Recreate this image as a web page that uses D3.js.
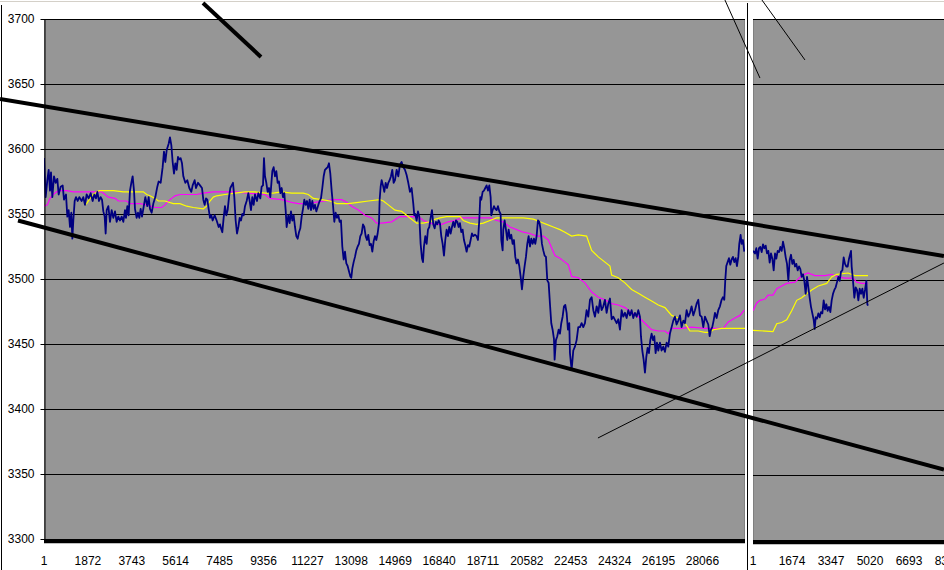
<!DOCTYPE html>
<html>
<head>
<meta charset="utf-8">
<script src="https://cdn.jsdelivr.net/npm/d3@7"></script>
<style>
  body { margin: 0; background: #fff; }
  svg { display: block; }
  text { font-family: "Liberation Sans", Arial, sans-serif; font-size: 12px; fill: #000; }
</style>
</head>
<body>
<svg id="chart" width="944" height="570"></svg>
<script>
// ---- data ----
const yTicks = [3300, 3350, 3400, 3450, 3500, 3550, 3600, 3650, 3700];
const leftCats = [1, 1872, 3743, 5614, 7485, 9356, 11227, 13098, 14969, 16840, 18711, 20582, 22453, 24324, 26195, 28066];
const rightCats = [1, 1674, 3347, 5020, 6693, 8366];
const leftCount = 29880;

// price, left chart  [index, value]
const priceLeft = [[1,3593],[72,3563],[143,3576],[200,3584],[257,3568],[299,3582],[356,3563],[427,3579],[498,3574],[569,3577],[626,3565],[711,3571],[797,3572],[853,3561],[939,3565],[995,3548],[1052,3553],[1109,3540],[1166,3551],[1209,3531],[1251,3545],[1308,3560],[1365,3563],[1436,3560],[1507,3563],[1606,3560],[1677,3563],[1748,3557],[1819,3565],[1905,3562],[1990,3566],[2075,3560],[2146,3565],[2217,3562],[2274,3567],[2345,3560],[2416,3563],[2473,3561],[2530,3552],[2587,3548],[2629,3535],[2672,3553],[2743,3556],[2814,3544],[2885,3553],[2956,3547],[3027,3552],[3098,3544],[3169,3548],[3240,3545],[3311,3548],[3382,3544],[3453,3553],[3496,3547],[3553,3556],[3609,3549],[3666,3568],[3723,3574],[3780,3579],[3837,3568],[3879,3554],[3950,3547],[4007,3551],[4064,3547],[4121,3554],[4178,3548],[4263,3557],[4320,3563],[4405,3556],[4462,3563],[4519,3554],[4590,3551],[4661,3558],[4746,3563],[4831,3571],[4888,3575],[4973,3574],[5058,3586],[5115,3598],[5172,3590],[5229,3599],[5314,3604],[5371,3609],[5428,3603],[5485,3590],[5542,3581],[5599,3589],[5655,3584],[5712,3594],[5769,3592],[5826,3593],[5883,3589],[5940,3579],[6025,3574],[6110,3576],[6195,3570],[6280,3567],[6337,3572],[6422,3576],[6479,3570],[6565,3574],[6650,3572],[6735,3570],[6792,3561],[6849,3557],[6906,3562],[6962,3561],[7019,3554],[7076,3547],[7133,3549],[7190,3545],[7275,3549],[7360,3545],[7446,3540],[7502,3542],
  [7545,3539],[7602,3536],[7658,3547],[7715,3556],[7772,3549],[7829,3553],[7886,3563],[7943,3570],[8000,3572],[8056,3574],[8113,3563],[8170,3545],[8227,3535],[8284,3540],[8340,3547],[8397,3545],[8454,3550],[8511,3549],[8568,3556],[8639,3560],[8710,3566],[8767,3560],[8823,3553],[8880,3563],[8937,3557],[8994,3565],[9079,3560],[9136,3566],[9221,3562],[9278,3571],[9335,3572],[9377,3593],[9420,3579],[9477,3574],[9534,3567],[9591,3570],[9647,3563],[9733,3583],[9789,3586],[9846,3579],[9903,3583],[9960,3574],[10017,3575],[10074,3566],[10130,3570],[10187,3563],[10244,3566],[10301,3553],[10343,3540],[10415,3549],[10471,3543],[10528,3552],[10585,3545],[10642,3549],[10699,3540],[10755,3533],[10812,3531],[10869,3536],[10926,3539],[10983,3548],[11040,3554],[11097,3561],[11153,3557],[11210,3560],[11267,3554],[11324,3561],[11381,3553],[11437,3560],[11494,3554],[11551,3557],[11608,3552],[11693,3557],[11750,3560],[11807,3562],[11864,3570],[11921,3579],[11977,3584],[12034,3585],[12091,3586],[12148,3589],[12205,3581],[12261,3568],[12318,3557],[12375,3544],[12432,3551],[12489,3547],[12546,3549],[12602,3544],[12659,3545],[12716,3525],[12773,3515],[12830,3521],[12887,3512],[12943,3510],[13000,3506],[13057,3502],[13100,3501],[13142,3508],[13199,3513],[13256,3517],[13313,3522],[13370,3525],[13426,3527],[13483,3533],[13540,3535],[13597,3542],[13654,3540],[13711,3533],[13767,3530],[13824,3534],[13881,3526],[13938,3527],[13995,3521],[14052,3529],[14108,3533],[14165,3530],[14222,3535],[14279,3543],[14307,3561],[14350,3571],[14393,3576],[14449,3572],[14506,3567],[14563,3574],[14620,3570],[14677,3574],[14733,3576],[14790,3579],[14847,3584],[14904,3574],[14961,3576],
  [15031,3584],[15102,3579],[15173,3588],[15244,3590],[15315,3586],[15386,3584],[15457,3580],[15528,3574],[15599,3567],[15670,3570],[15741,3558],[15784,3549],[15827,3550],[15884,3545],[15941,3552],[15997,3548],[16054,3527],[16111,3516],[16154,3513],[16196,3525],[16253,3533],[16310,3527],[16367,3538],[16424,3540],[16480,3547],[16537,3553],[16594,3542],[16651,3539],[16708,3544],[16764,3542],[16821,3545],[16878,3543],[16935,3533],[16992,3527],[17049,3518],[17105,3530],[17162,3538],[17219,3533],[17276,3540],[17333,3535],[17390,3540],[17446,3544],[17503,3540],[17560,3545],[17617,3544],[17674,3540],[17730,3543],[17787,3536],[17844,3538],[17901,3530],[17958,3526],[18015,3521],[18071,3526],[18128,3525],[18185,3530],[18242,3535],[18299,3533],[18370,3534],[18441,3533],[18498,3530],[18554,3545],[18597,3563],[18640,3561],[18697,3567],[18753,3568],[18810,3570],[18867,3572],[18924,3568],[18981,3572],[19038,3563],[19066,3549],[19123,3553],[19180,3556],[19236,3554],[19293,3553],[19350,3556],[19407,3552],[19464,3550],[19492,3530],[19549,3522],[19577,3538],[19634,3545],[19691,3538],[19748,3530],[19805,3538],[19862,3531],[19918,3534],[19975,3527],[20032,3530],[20089,3517],[20146,3512],[20203,3515],[20259,3510],[20316,3502],[20373,3492],[20430,3502],[20487,3510],[20543,3517],[20600,3527],[20657,3533],[20714,3525],[20771,3531],[20828,3527],[20884,3531],[20941,3527],[20998,3533],[21055,3545],[21112,3544],[21169,3538],[21225,3527],[21282,3522],[21339,3518],[21396,3517],[21453,3499],[21510,3497],[21566,3481],[21623,3466],[21680,3461],[21737,3454],[21765,3438],[21822,3453],[21879,3456],[21936,3461],[21993,3458],[22049,3466],[22106,3471],[22163,3479],[22220,3480],[22277,3474],[22333,3461],[22390,3466],
  [22419,3443],[22490,3430],[22561,3445],[22632,3448],[22703,3453],[22774,3463],[22845,3463],[22916,3466],[22987,3463],[23058,3466],[23129,3476],[23200,3471],[23272,3484],[23343,3486],[23414,3476],[23485,3471],[23556,3479],[23627,3474],[23698,3484],[23769,3476],[23840,3479],[23911,3484],[23982,3474],[24053,3481],[24124,3485],[24195,3469],[24266,3471],[24408,3466],[24479,3469],[24550,3461],[24621,3476],[24692,3471],[24763,3474],[24834,3470],[24905,3476],[24976,3472],[25047,3476],[25118,3470],[25189,3474],[25261,3471],[25332,3476],[25403,3471],[25445,3456],[25502,3445],[25559,3438],[25616,3428],[25673,3440],[25729,3447],[25786,3443],[25843,3453],[25900,3458],[25957,3453],[26014,3456],[26070,3443],[26127,3451],[26184,3445],[26255,3451],[26326,3445],[26397,3448],[26468,3444],[26539,3451],[26610,3448],[26681,3458],[26752,3463],[26823,3468],[26894,3471],[26965,3465],[27036,3468],[27107,3472],[27178,3463],[27249,3468],[27321,3466],[27392,3476],[27463,3471],[27534,3474],[27605,3479],[27676,3472],[27747,3476],[27818,3481],[27889,3484],[27960,3472],[28031,3471],[28102,3463],[28173,3471],[28244,3468],[28315,3465],[28372,3456],[28429,3461],[28485,3463],[28542,3468],[28599,3474],[28670,3470],[28741,3476],[28812,3479],[28883,3484],[28940,3486],[28997,3484],[29039,3499],[29082,3510],[29139,3513],[29196,3516],[29253,3511],[29310,3515],[29366,3517],[29423,3513],[29480,3516],[29537,3510],[29594,3517],[29636,3527],[29693,3534],[29736,3527],[29793,3530],[29849,3521]];

// moving averages, left chart
const maPinkLeft = [[1,3556],[143,3557],[257,3562],[399,3565],[541,3567],[683,3568],[967,3568],[1251,3567],[2246,3567],[2459,3567],[2601,3565],[2743,3563],[3027,3562],[3169,3560],[3524,3560],[3666,3558],[4093,3558],[4377,3557],[4732,3555],[5016,3555],[5158,3557],[5300,3560],[5442,3562],[5585,3564],[5798,3565],[6082,3565],[6507,3565],[6792,3566],[7218,3567],[8141,3567],[8710,3566],[9420,3565],[9633,3562],[10130,3561],[10557,3559],[10841,3558],[11267,3558],[11551,3559],[11977,3560],[12261,3561],[12688,3561],[12901,3559],[13114,3556],[13398,3553],[13682,3549],[13966,3547],[14179,3543],[14393,3543],[14819,3544],[15173,3548],[15457,3548],[15741,3548],[16026,3547],[16168,3545],[16452,3543],[16665,3542],[16949,3542],[17233,3544],[17517,3545],[17802,3547],[18157,3547],[18583,3547],[19009,3547],[19293,3545],[19577,3544],[19862,3540],[20146,3538],[20430,3536],[20714,3535],[20998,3533],[21282,3533],[21495,3530],[21637,3524],[21779,3518],[21993,3516],[22206,3513],[22348,3511],[22490,3502],[22774,3501],[23058,3497],[23343,3490],[23627,3486],[23911,3484],[24195,3481],[24479,3480],[24763,3478],[25047,3474],[25332,3471],[25616,3466],[25900,3461],[26184,3460],[26468,3460],[26610,3458],[26752,3462],[27178,3462],[27605,3463],[28173,3462],[28599,3462],[28954,3462],[29168,3467],[29452,3470],[29665,3472],[29849,3476]];
const maYellowLeft = [[1720,3557],[1819,3558],[1962,3562],[2104,3565],[2246,3567],[2359,3568],[2672,3568],[2956,3568],[3382,3567],[4235,3567],[4377,3565],[4519,3564],[4732,3562],[4874,3560],[5158,3560],[5513,3558],[5798,3558],[6082,3556],[6366,3555],[6792,3554],[6934,3556],[7076,3560],[7218,3563],[7360,3564],[7715,3565],[8141,3566],[8568,3567],[8994,3567],[9420,3566],[9775,3566],[10130,3567],[10557,3566],[11054,3566],[11267,3565],[11480,3562],[11835,3561],[12190,3560],[12475,3558],[12972,3558],[13398,3559],[13824,3560],[14322,3561],[14463,3560],[14677,3557],[14961,3553],[15244,3552],[15457,3549],[15670,3546],[15884,3543],[16168,3543],[16452,3544],[16665,3546],[16878,3547],[17162,3548],[17517,3548],[17730,3548],[17873,3545],[18157,3543],[18441,3542],[18725,3543],[19009,3545],[19293,3547],[19577,3547],[20003,3547],[20430,3547],[20856,3546],[21140,3544],[21424,3542],[21708,3540],[21993,3538],[22206,3536],[22490,3533],[22774,3534],[23129,3533],[23343,3522],[23627,3517],[23911,3513],[24124,3510],[24195,3503],[24479,3501],[24763,3497],[25047,3492],[25332,3489],[25616,3486],[25900,3483],[26184,3480],[26468,3478],[26752,3472],[27036,3470],[27321,3466],[27534,3460],[27889,3460],[28173,3459],[28386,3459],[28528,3461],[28883,3462],[29310,3462],[29878,3462]];

// price and moving averages, right chart
const priceRight = [[1,3522],[87,3520],[144,3524],[201,3516],[259,3524],[316,3525],[373,3521],[430,3527],[487,3524],[545,3526],[602,3520],[659,3522],[716,3513],[773,3520],[831,3516],[888,3507],[945,3520],[1002,3516],[1059,3522],[1117,3521],[1174,3525],[1231,3522],[1288,3529],[1345,3524],[1403,3517],[1460,3512],[1517,3499],[1574,3515],[1631,3519],[1689,3512],[1746,3515],[1803,3510],[1860,3512],[1917,3507],[1975,3510],[2032,3508],[2089,3502],[2146,3504],[2203,3499],[2261,3489],[2318,3502],[2375,3494],[2432,3486],[2489,3479],[2547,3474],[2604,3469],[2647,3462],[2690,3471],[2747,3470],[2804,3474],[2861,3471],[2918,3475],[2976,3474],[3033,3484],[3090,3477],[3147,3481],[3204,3476],[3262,3479],[3319,3475],[3376,3484],[3433,3489],[3490,3492],[3548,3494],[3605,3498],[3662,3502],[3719,3499],[3776,3506],[3834,3507],[3891,3517],[3948,3512],[4005,3510],[4062,3510],[4120,3516],[4177,3520],[4205,3522],[4234,3510],[4291,3499],[4348,3486],[4406,3494],[4463,3492],[4520,3484],[4577,3493],[4634,3489],[4692,3493],[4749,3486],[4806,3492],[4863,3499],[4906,3481],[4935,3480]];
const maPinkRight = [[1,3476],[160,3482],[301,3484],[516,3485],[645,3488],[859,3488],[1018,3493],[1232,3495],[1447,3497],[1803,3498],[2090,3503],[2360,3505],[2661,3503],[3090,3503],[3377,3504],[3648,3502],[3948,3501],[4291,3501],[4450,3498],[4664,3497],[4922,3497]];
const maYellowRight = [[1,3461],[859,3460],[1018,3466],[1232,3467],[1447,3469],[1661,3476],[1876,3484],[2090,3486],[2305,3489],[2519,3492],[2802,3495],[3163,3497],[3377,3502],[3592,3504],[4077,3505],[4377,3503],[4935,3503]];

// hand-drawn trend lines, in left-chart units [index1, value1, index2, value2]
const trendThick = [[-1874,3638.5,38359,3517.7],[-1107,3545,38359,3353.5],[6778,3712.3,9250,3670.8]];
const trendThin = [[29025,3714.6,30517,3654.6],[30602,3714.6,32435,3668.5],[23612,3377.7,38359,3512.3]];

// ---- drawing ----
const svg = d3.select("#chart"),
  width = +svg.attr("width"),
  height = +svg.attr("height");

const plotL = {x0: 44, x1: 745, y0: 19, y1: 539};
const plotR = {x0: 753, x1: 1000, y0: 19, y1: 540};

const xL = d3.scaleLinear().domain([1, leftCount]).range([plotL.x0, plotL.x1]);
const yL = d3.scaleLinear().domain([3300, 3700]).range([plotL.y1, plotL.y0]);
const xR = d3.scaleLinear().domain([1, 8366]).range([plotR.x0, plotR.x0 + 39 * 5]);
const yR = d3.scaleLinear().domain([3300, 3700]).range([plotR.y1, plotR.y0]);

// window frame bits
svg.append("line").attr("x1", 0).attr("x2", width).attr("y1", 1.5).attr("y2", 1.5)
  .attr("stroke", "#d4d0c8").attr("stroke-width", 1);
svg.append("line").attr("x1", 1.5).attr("x2", 1.5).attr("y1", 5).attr("y2", height)
  .attr("stroke", "#000").attr("stroke-width", 1);
svg.append("line").attr("x1", 747.5).attr("x2", 747.5).attr("y1", 3).attr("y2", height)
  .attr("stroke", "#000").attr("stroke-width", 1);

const defs = svg.append("defs");
defs.append("clipPath").attr("id", "clipL").append("rect")
  .attr("x", plotL.x0).attr("y", plotL.y0).attr("width", plotL.x1 - plotL.x0).attr("height", plotL.y1 - plotL.y0);
defs.append("clipPath").attr("id", "clipR").append("rect")
  .attr("x", plotR.x0).attr("y", plotR.y0).attr("width", plotR.x1 - plotR.x0).attr("height", plotR.y1 - plotR.y0);

function panel(p, x, y, clipId, price, pink, yellow, cats) {
  const g = svg.append("g");
  g.append("rect")
    .attr("x", p.x0 + 0.5).attr("y", p.y0 + 0.5)
    .attr("width", p.x1 - p.x0 - 1).attr("height", p.y1 - p.y0)
    .attr("fill", "#969696").attr("stroke", "#808080");

  // gridlines
  g.append("g").selectAll("line")
    .data(yTicks.filter(d => d > 3300))
    .join("line")
    .attr("x1", p.x0).attr("x2", p.x1)
    .attr("y1", d => Math.round(y(d)) + 0.5).attr("y2", d => Math.round(y(d)) + 0.5)
    .attr("stroke", "#000").attr("stroke-width", 1);

  const series = g.append("g").attr("clip-path", `url(#${clipId})`);
  const line = d3.line().x(d => x(d[0])).y(d => y(d[1]));
  series.append("path").datum(pink).attr("d", line)
    .attr("fill", "none").attr("stroke", "#ff00ff").attr("stroke-width", 1.2);
  series.append("path").datum(yellow).attr("d", line)
    .attr("fill", "none").attr("stroke", "#ffff00").attr("stroke-width", 1.2);
  series.append("path").datum(price).attr("d", line)
    .attr("fill", "none").attr("stroke", "#000080").attr("stroke-width", 1.8)
    .attr("stroke-linejoin", "round");

  // thick category axis line
  g.append("line")
    .attr("x1", p.x0).attr("x2", p.x1)
    .attr("y1", p.y1 + 2.2).attr("y2", p.y1 + 2.2)
    .attr("stroke", "#000").attr("stroke-width", 4.3);

  // category labels
  g.append("g").selectAll("text")
    .data(cats)
    .join("text")
    .attr("x", d => x(d))
    .attr("y", 565)
    .attr("text-anchor", "middle")
    .text(d => d);
  return g;
}

panel(plotL, xL, yL, "clipL", priceLeft, maPinkLeft, maYellowLeft, leftCats);
panel(plotR, xR, yR, "clipR", priceRight, maPinkRight, maYellowRight, rightCats);

// value axis of the left chart
const yAxis = svg.append("g")
  .attr("transform", `translate(${plotL.x0 + 0.5},0)`)
  .call(d3.axisLeft(yL).tickValues(yTicks).tickSize(4).tickSizeOuter(0).tickPadding(6).tickFormat(d3.format("d")));
yAxis.select(".domain").attr("stroke", "#000");
yAxis.selectAll(".tick line").attr("stroke", "#000");
yAxis.selectAll("text").attr("font-size", 12).attr("font-family", "Liberation Sans, Arial, sans-serif").attr("fill", "#000");

// trend lines drawn on top of both charts
svg.append("g").selectAll("line")
  .data(trendThick)
  .join("line")
  .attr("x1", d => xL(d[0])).attr("y1", d => yL(d[1]))
  .attr("x2", d => xL(d[2])).attr("y2", d => yL(d[3]))
  .attr("stroke", "#000").attr("stroke-width", 4);
svg.append("g").selectAll("line")
  .data(trendThin)
  .join("line")
  .attr("x1", d => xL(d[0])).attr("y1", d => yL(d[1]))
  .attr("x2", d => xL(d[2])).attr("y2", d => yL(d[3]))
  .attr("stroke", "#000").attr("stroke-width", 1);
</script>
</body>
</html>
